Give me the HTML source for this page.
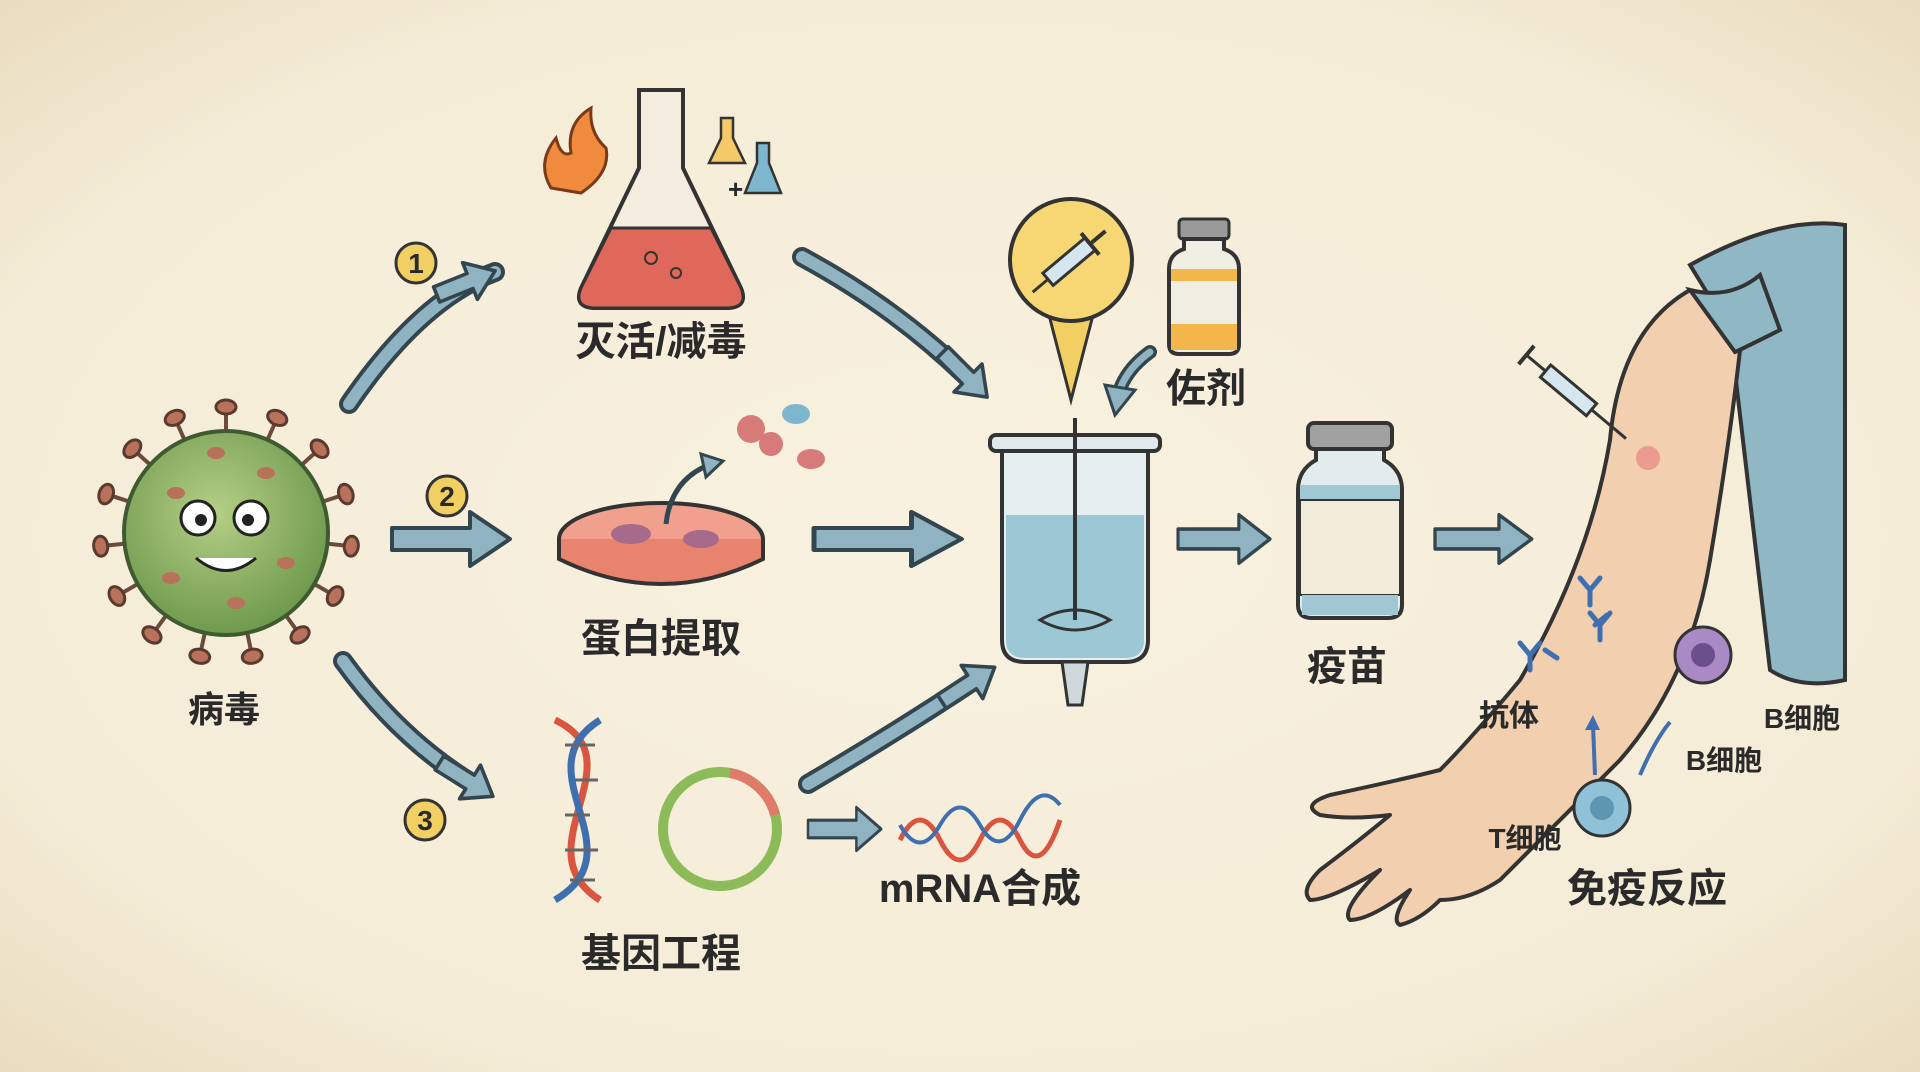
<!DOCTYPE html>
<html><head><meta charset="utf-8"><style>
html,body{margin:0;padding:0;}
body{width:1920px;height:1072px;overflow:hidden;background:#f6eedb;}
svg{display:block;}
text{font-family:"Liberation Sans","Noto Sans CJK SC",sans-serif;font-weight:bold;fill:#2a2a2a;}
</style></head><body>
<svg width="1920" height="1072" viewBox="0 0 1920 1072" xmlns="http://www.w3.org/2000/svg">
<defs>
<radialGradient id="bg" cx="50%" cy="50%" r="70%"><stop offset="0" stop-color="#f8f1df"/><stop offset="0.75" stop-color="#f5ecd6"/><stop offset="1" stop-color="#e9dcc0"/></radialGradient>
<radialGradient id="vir" cx="45%" cy="40%" r="60%"><stop offset="0" stop-color="#b5cf86"/><stop offset="1" stop-color="#6f9a4e"/></radialGradient>
<g id="arrh"><path d="M0,-9 L40,-9 L40,-22 L70,0 L40,22 L40,9 L0,9 Z" fill="#8fb3c0" stroke="#33454f" stroke-width="4" stroke-linejoin="round"/></g>
<g id="arr"><path d="M0,-11 L78,-11 L78,-27 L118,0 L78,27 L78,11 L0,11 Z" fill="#8fb3c0" stroke="#33454f" stroke-width="4" stroke-linejoin="round"/></g>
<g id="spike"><line x1="0" y1="0" x2="0" y2="-22" stroke="#6d4a3a" stroke-width="4"/><ellipse cx="0" cy="-26" rx="10" ry="7" fill="#b9725a" stroke="#5a3a30" stroke-width="3"/></g>
</defs>
<rect width="1920" height="1072" fill="url(#bg)"/>

<!-- virus -->
<g transform="translate(226,533)">
<g>
<use href="#spike" transform="rotate(0) translate(0,-100)"/><use href="#spike" transform="rotate(24) translate(0,-100)"/><use href="#spike" transform="rotate(48) translate(0,-100)"/><use href="#spike" transform="rotate(72) translate(0,-100)"/><use href="#spike" transform="rotate(96) translate(0,-100)"/><use href="#spike" transform="rotate(120) translate(0,-100)"/><use href="#spike" transform="rotate(144) translate(0,-100)"/><use href="#spike" transform="rotate(168) translate(0,-100)"/><use href="#spike" transform="rotate(192) translate(0,-100)"/><use href="#spike" transform="rotate(216) translate(0,-100)"/><use href="#spike" transform="rotate(240) translate(0,-100)"/><use href="#spike" transform="rotate(264) translate(0,-100)"/><use href="#spike" transform="rotate(288) translate(0,-100)"/><use href="#spike" transform="rotate(312) translate(0,-100)"/><use href="#spike" transform="rotate(336) translate(0,-100)"/>
</g>
<circle r="102" fill="url(#vir)" stroke="#3f5a30" stroke-width="4"/>
<ellipse cx="-50" cy="-40" rx="9" ry="6" fill="#b9725a"/><ellipse cx="40" cy="-60" rx="9" ry="6" fill="#b9725a"/><ellipse cx="60" cy="30" rx="9" ry="6" fill="#b9725a"/><ellipse cx="-55" cy="45" rx="9" ry="6" fill="#b9725a"/><ellipse cx="10" cy="70" rx="9" ry="6" fill="#b9725a"/><ellipse cx="-10" cy="-80" rx="9" ry="6" fill="#b9725a"/>
<circle cx="-28" cy="-15" r="17" fill="#fff" stroke="#222" stroke-width="3"/><circle cx="-25" cy="-13" r="6" fill="#222"/>
<circle cx="25" cy="-15" r="17" fill="#fff" stroke="#222" stroke-width="3"/><circle cx="22" cy="-13" r="6" fill="#222"/>
<path d="M-30,25 Q0,50 30,25" fill="#fff" stroke="#222" stroke-width="3"/>
</g>
<text x="224" y="722" font-size="36" text-anchor="middle">病毒</text>

<!-- numbers -->
<g font-size="28" text-anchor="middle">
<circle cx="416" cy="263" r="20" fill="#f2cf63" stroke="#333" stroke-width="3"/><text x="416" y="273">1</text>
<circle cx="447" cy="496" r="20" fill="#f2cf63" stroke="#333" stroke-width="3"/><text x="447" y="506">2</text>
<circle cx="425" cy="820" r="20" fill="#f2cf63" stroke="#333" stroke-width="3"/><text x="425" y="830">3</text>
</g>

<!-- arrows from virus -->
<path d="M349,404 Q420,300 495,272" fill="none" stroke="#33454f" stroke-width="20" stroke-linecap="round"/>
<path d="M349,404 Q420,300 495,272" fill="none" stroke="#8fb3c0" stroke-width="12" stroke-linecap="round"/>
<use href="#arrh" transform="translate(470,281) rotate(-22) scale(0.9) translate(-40,0)"/>
<use href="#arr" transform="translate(392,539)"/>
<path d="M343,661 Q400,740 475,785" fill="none" stroke="#33454f" stroke-width="20" stroke-linecap="round"/>
<path d="M343,661 Q400,740 475,785" fill="none" stroke="#8fb3c0" stroke-width="12" stroke-linecap="round"/>
<use href="#arrh" transform="translate(470,782) rotate(32) scale(0.9) translate(-40,0)"/>

<!-- flask -->
<g transform="translate(661,208)">
<path d="M-22,-118 L22,-118 L22,-40 L80,80 Q88,100 65,100 L-65,100 Q-88,100 -80,80 L-22,-40 Z" fill="#f3ecdf" stroke="#333" stroke-width="4"/>
<path d="M-50,20 L50,20 L80,80 Q88,100 65,100 L-65,100 Q-88,100 -80,80 Z" fill="#e0685a" stroke="#333" stroke-width="3"/>
<circle cx="-10" cy="50" r="6" fill="none" stroke="#333" stroke-width="2"/><circle cx="15" cy="65" r="5" fill="none" stroke="#333" stroke-width="2"/>
<path d="M-110,-20 Q-125,-45 -105,-70 Q-100,-50 -90,-55 Q-95,-85 -70,-100 Q-72,-75 -55,-60 Q-50,-35 -80,-15 Z" fill="#f08a3c" stroke="#7a3a1a" stroke-width="3"/>
<path d="M60,-90 L72,-90 L72,-70 L84,-45 L48,-45 L60,-70 Z" fill="#f5c96a" stroke="#333" stroke-width="2.5"/>
<path d="M96,-65 L108,-65 L108,-45 L120,-15 L84,-15 L96,-45 Z" fill="#7fb6cf" stroke="#333" stroke-width="2.5"/>
<text x="67" y="-10" font-size="26">+</text>
</g>
<text x="661" y="355" font-size="40" text-anchor="middle">灭活/减毒</text>

<!-- petri -->
<g transform="translate(661,539)">
<ellipse cx="0" cy="0" rx="102" ry="36" fill="#f0a08c" stroke="#333" stroke-width="4"/>
<path d="M-102,0 L-102,20 Q0,70 102,20 L102,0" fill="#e8836e" stroke="#333" stroke-width="4"/>
<ellipse cx="-30" cy="-5" rx="20" ry="10" fill="#a66a8a"/><ellipse cx="40" cy="0" rx="18" ry="9" fill="#a66a8a"/>
<path d="M5,-15 Q10,-60 50,-75" fill="none" stroke="#33454f" stroke-width="5"/>
<path d="M40,-85 L62,-78 L45,-62 Z" fill="#8fb3c0" stroke="#33454f" stroke-width="3"/>
<circle cx="90" cy="-110" r="14" fill="#d77a7a"/><circle cx="110" cy="-95" r="12" fill="#d77a7a"/><ellipse cx="135" cy="-125" rx="14" ry="10" fill="#7fb6cf"/><ellipse cx="150" cy="-80" rx="14" ry="10" fill="#d77a7a"/>
</g>
<text x="661" y="652" font-size="40" text-anchor="middle">蛋白提取</text>

<!-- DNA + plasmid -->
<g fill="none" stroke-width="7">
<path d="M555,720 C640,760 520,850 600,900" stroke="#d9553f"/>
<path d="M600,720 C520,770 640,850 555,900" stroke="#3f6fae"/>
</g>
<g stroke="#666" stroke-width="3"><line x1="565" y1="745" x2="595" y2="745"/><line x1="575" y1="780" x2="598" y2="780"/><line x1="565" y1="815" x2="590" y2="815"/><line x1="565" y1="850" x2="598" y2="850"/><line x1="570" y1="880" x2="595" y2="880"/></g>
<circle cx="720" cy="829" r="57" fill="none" stroke="#8dbb5a" stroke-width="10"/>
<path d="M730,773 A57,57 0 0 1 775,815" fill="none" stroke="#e07a6a" stroke-width="10"/>
<text x="661" y="967" font-size="40" text-anchor="middle">基因工程</text>

<!-- mRNA -->
<use href="#arr" transform="translate(808,829) scale(0.62,0.8)"/>
<path d="M900,840 Q920,800 940,840 T980,840 T1020,840 T1060,820" fill="none" stroke="#d9553f" stroke-width="5"/>
<path d="M900,825 Q920,860 940,825 T980,825 T1020,820 T1060,805" fill="none" stroke="#3f6fae" stroke-width="4"/>
<text x="980" y="902" font-size="40" text-anchor="middle">mRNA合成</text>

<!-- arrows to reactor -->
<path d="M802,257 Q900,310 975,385" fill="none" stroke="#33454f" stroke-width="20" stroke-linecap="round"/>
<path d="M802,257 Q900,310 975,385" fill="none" stroke="#8fb3c0" stroke-width="12" stroke-linecap="round"/>
<use href="#arrh" transform="translate(968,378) rotate(45) scale(0.9) translate(-40,0)"/>
<use href="#arr" transform="translate(814,539) scale(1.25,1)"/>
<path d="M808,784 Q900,730 975,680" fill="none" stroke="#33454f" stroke-width="20" stroke-linecap="round"/>
<path d="M808,784 Q900,730 975,680" fill="none" stroke="#8fb3c0" stroke-width="12" stroke-linecap="round"/>
<use href="#arrh" transform="translate(972,682) rotate(-33) scale(0.9) translate(-40,0)"/>

<!-- yellow syringe circle -->
<path d="M1071,260 m-22,55 L1071,400 L1093,315 Z" fill="#f2cf63" stroke="#333" stroke-width="3"/>
<circle cx="1071" cy="260" r="61" fill="#f6d774" stroke="#333" stroke-width="4"/>
<g transform="translate(1071,260) rotate(-40)">
<rect x="-30" y="-8" width="55" height="16" fill="#d6e6ee" stroke="#333" stroke-width="3"/>
<line x1="-30" y1="0" x2="-50" y2="0" stroke="#333" stroke-width="3"/>
<line x1="25" y1="0" x2="45" y2="0" stroke="#333" stroke-width="4"/>
<line x1="25" y1="-14" x2="25" y2="14" stroke="#333" stroke-width="4"/>
</g>
<!-- small adjuvant vial -->
<g transform="translate(1204,284)">
<rect x="-25" y="-65" width="50" height="20" rx="4" fill="#9a9a9a" stroke="#333" stroke-width="3"/>
<path d="M-20,-45 L20,-45 L20,-35 Q35,-30 35,-15 L35,60 Q35,70 25,70 L-25,70 Q-35,70 -35,60 L-35,-15 Q-35,-30 -20,-35 Z" fill="#f0ede3" stroke="#333" stroke-width="4"/>
<rect x="-33" y="-15" width="66" height="12" fill="#f2b64a"/><rect x="-33" y="40" width="66" height="26" fill="#f2b64a"/>
</g>
<text x="1206" y="402" font-size="40" text-anchor="middle">佐剂</text>
<path d="M1150,352 Q1125,370 1118,395" fill="none" stroke="#33454f" stroke-width="14" stroke-linecap="round"/>
<path d="M1150,352 Q1125,370 1118,395" fill="none" stroke="#8fb3c0" stroke-width="7" stroke-linecap="round"/>
<path d="M1105,385 L1115,415 L1135,390 Z" fill="#8fb3c0" stroke="#33454f" stroke-width="3"/>

<!-- reactor -->
<g>
<rect x="990" y="435" width="170" height="16" rx="6" fill="#dfe8ea" stroke="#333" stroke-width="4"/>
<path d="M1002,451 L1002,640 Q1002,662 1025,662 L1125,662 Q1148,662 1148,640 L1148,451 Z" fill="#e6efef" stroke="#333" stroke-width="4"/>
<path d="M1006,515 L1144,515 L1144,640 Q1144,658 1125,658 L1025,658 Q1006,658 1006,640 Z" fill="#9cc7d4"/>
<line x1="1075" y1="418" x2="1075" y2="620" stroke="#333" stroke-width="4"/>
<path d="M1040,620 Q1075,600 1110,620 Q1075,640 1040,620 Z" fill="none" stroke="#333" stroke-width="3"/>
<path d="M1062,662 L1088,662 L1082,705 L1068,705 Z" fill="#cfd8da" stroke="#333" stroke-width="3"/>
</g>
<use href="#arr" transform="translate(1178,539) scale(0.78,0.9)"/>

<!-- vaccine vial -->
<g transform="translate(1350,520)">
<rect x="-42" y="-97" width="84" height="26" rx="6" fill="#a0a0a0" stroke="#333" stroke-width="4"/>
<path d="M-34,-71 L34,-71 L34,-60 Q52,-50 52,-30 L52,85 Q52,98 38,98 L-38,98 Q-52,98 -52,85 L-52,-30 Q-52,-50 -34,-60 Z" fill="#e3ecec" stroke="#333" stroke-width="4"/>
<rect x="-50" y="-35" width="100" height="15" fill="#9fc8d4"/>
<rect x="-50" y="-20" width="100" height="95" fill="#f2ecdb" stroke="#333" stroke-width="2"/>
<rect x="-48" y="75" width="96" height="20" fill="#9fc8d4"/>
</g>
<text x="1347" y="680" font-size="40" text-anchor="middle">疫苗</text>
<use href="#arr" transform="translate(1435,539) scale(0.82,0.9)"/>

<!-- arm -->
<path d="M1690,265 Q1780,215 1845,225 L1845,680 Q1800,690 1770,670 L1730,330 Z" fill="#8fb8c4" stroke="#333" stroke-width="4"/>
<path d="M1690,290 Q1620,330 1610,440 Q1590,560 1520,680 Q1470,740 1440,770 Q1400,780 1330,795 Q1300,805 1320,815 Q1350,820 1390,815 Q1360,840 1320,870 Q1300,890 1310,900 Q1330,900 1380,870 Q1340,910 1350,920 Q1370,920 1410,890 Q1390,920 1400,925 Q1420,920 1440,900 Q1470,900 1500,880 Q1560,820 1620,760 Q1690,680 1710,560 Q1730,440 1740,350 Z" fill="#f2cfae" stroke="#333" stroke-width="4" stroke-linejoin="round"/>
<path d="M1690,290 Q1730,300 1760,275 L1780,330 Q1740,350 1735,352 Z" fill="#8fb8c4" stroke="#333" stroke-width="4"/>
<circle cx="1648" cy="458" r="12" fill="#e67a7a" opacity="0.6"/>
<g transform="translate(1580,400) rotate(40)">
<rect x="-45" y="-8" width="60" height="16" fill="#d6e6ee" stroke="#333" stroke-width="3"/>
<line x1="-45" y1="0" x2="-70" y2="0" stroke="#333" stroke-width="3"/><line x1="-70" y1="-12" x2="-70" y2="12" stroke="#333" stroke-width="4"/>
<line x1="15" y1="0" x2="60" y2="0" stroke="#333" stroke-width="3"/>
</g>
<g stroke="#3f6fae" stroke-width="5" fill="none" stroke-linecap="round">
<path d="M1590,605 l0,-15 m0,0 l-10,-12 m10,12 l10,-12"/>
<path d="M1600,640 l0,-15 m0,0 l-10,-12 m10,12 l10,-12"/>
<path d="M1530,670 l0,-15 m0,0 l-10,-12 m10,12 l10,-12"/>
<path d="M1595,625 l12,-10"/><path d="M1545,650 l12,8"/>
</g>
<circle cx="1703" cy="655" r="28" fill="#a98ac4" stroke="#333" stroke-width="3"/><circle cx="1703" cy="655" r="12" fill="#6b4f8a"/>
<circle cx="1602" cy="808" r="28" fill="#8fc2d8" stroke="#333" stroke-width="3"/><circle cx="1602" cy="808" r="12" fill="#5e95b0"/>
<path d="M1595,775 L1593,725" stroke="#3f6fae" stroke-width="4"/><path d="M1585,730 L1593,715 L1600,730 Z" fill="#3f6fae"/>
<path d="M1640,775 Q1655,740 1670,722" fill="none" stroke="#3f6fae" stroke-width="4"/>
<text x="1509" y="726" font-size="30" text-anchor="middle">抗体</text>
<text x="1802" y="728" font-size="28" text-anchor="middle">B细胞</text>
<text x="1724" y="770" font-size="28" text-anchor="middle">B细胞</text>
<text x="1525" y="848" font-size="28" text-anchor="middle">T细胞</text>
<text x="1647" y="902" font-size="40" text-anchor="middle">免疫反应</text>
</svg>
</body></html>
